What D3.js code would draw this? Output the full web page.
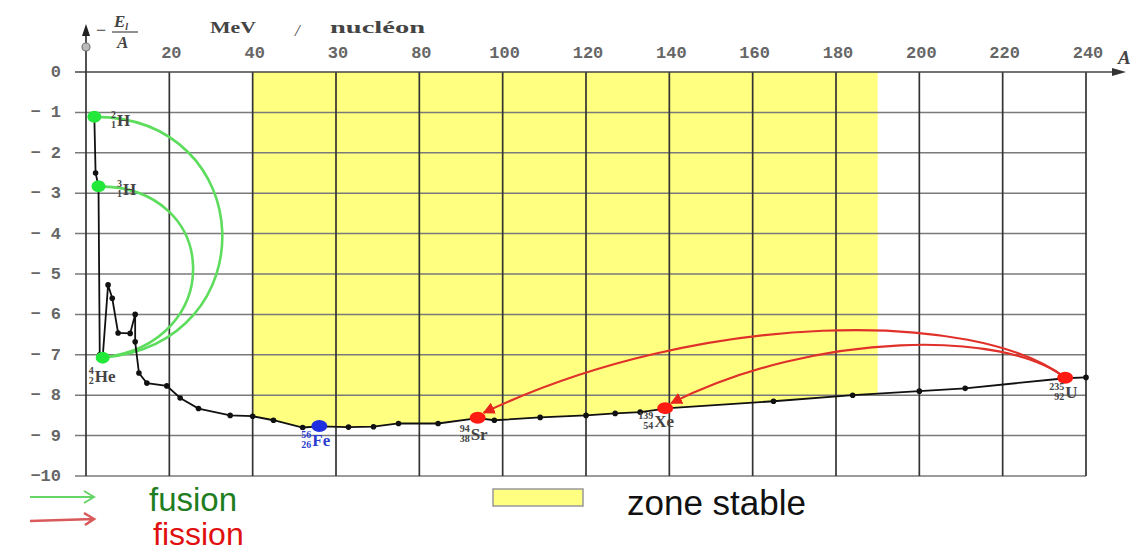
<!DOCTYPE html>
<html>
<head>
<meta charset="utf-8">
<script src="https://cdn.jsdelivr.net/npm/d3@7"></script>
<style>
  html, body { margin: 0; padding: 0; background: #fff; }
  svg { display: block; }
</style>
</head>
<body>
<div id="chart"></div>
<script>
// ---- data ----
// binding energy per nucleon curve: mass number A and -El/A (MeV / nucleon)
const massNumbers = [2, 2.3, 3, 3.3, 4, 5.3, 6.3, 7.7, 10.6, 11.8, 11.8, 12.7, 14.6, 19.4, 22.6, 27,
  34.6, 40, 45, 52, 56, 63, 69, 75, 84.5, 94, 98, 109, 120, 127, 133, 140, 165, 184, 200, 211, 235, 240];
const energies = [-1.11, -2.5, -2.83, -7.0, -7.07, -5.27, -5.6, -6.46, -6.47, -6.0, -6.68, -7.45, -7.7, -7.77, -8.07, -8.33,
  -8.5, -8.52, -8.62, -8.8, -8.77, -8.79, -8.78, -8.7, -8.7, -8.57, -8.62, -8.55, -8.5, -8.45, -8.42, -8.32, -8.15, -8.0, -7.9, -7.83, -7.58, -7.56];

// highlighted nuclides
const nuclideIds = ["2H", "3H", "4He", "56Fe", "94Sr", "139Xe", "235U"];
const nuclideMass = [2, 3, 4, 56, 94, 139, 235];
const nuclideZ = [1, 1, 2, 26, 38, 54, 92];
const nuclideSymbol = ["H", "H", "He", "Fe", "Sr", "Xe", "U"];
const nuclideEnergy = [-1.11, -2.83, -7.07, -8.76, -8.56, -8.32, -7.57];
const nuclideKind = ["fusion", "fusion", "fusion", "iron", "fission", "fission", "fission"];

// reactions: from, to, and how far the arc reaches (A for fusion, energy for fission)
const fusionFrom = ["2H", "3H"];
const fusionTo = ["4He", "4He"];
const fusionReachA = [32.7, 25.7];
const fissionFrom = ["235U", "235U"];
const fissionTo = ["94Sr", "139Xe"];
const fissionPeakE = [-6.42, -6.78];

// stable zone
const stableZone = [40, 190];

// axes
const xTicks = [20, 40, 60, 80, 100, 120, 140, 160, 180, 200, 220, 240];
const xTickLabels = ["20", "40", "30", "80", "100", "120", "140", "160", "180", "200", "220", "240"];
const yTicks = [0, -1, -2, -3, -4, -5, -6, -7, -8, -9, -10];
const yTickLabels = ["0", "\u2212 1", "\u2212 2", "\u2212 3", "\u2212 4", "\u2212 5", "\u2212 6", "\u2212 7", "\u2212 8", "\u2212 9", "\u221210"];

// ---- drawing ----
const width = 1140, height = 552;
const svg = d3.select("#chart").append("svg")
  .attr("width", width).attr("height", height)
  .attr("viewBox", [0, 0, width, height]);

const x = d3.scaleLinear().domain([0, 240]).range([86, 1086]);
const y = d3.scaleLinear().domain([0, -10]).range([72, 476]);

const curve = massNumbers.map((a, i) => ({ a: a, e: energies[i] }));
const nuclides = nuclideIds.map((id, i) => ({
  id: id, a: nuclideMass[i], z: nuclideZ[i], sym: nuclideSymbol[i],
  e: nuclideEnergy[i], kind: nuclideKind[i]
}));
const byId = {};
nuclides.forEach((n) => (byId[n.id] = n));

const defs = svg.append("defs");
defs.append("clipPath").attr("id", "zone-clip")
  .append("rect")
  .attr("x", x(stableZone[0])).attr("y", 0)
  .attr("width", x(stableZone[1]) - x(stableZone[0])).attr("height", height);

defs.append("marker").attr("id", "head-red")
  .attr("viewBox", "0 0 10 10").attr("refX", 9).attr("refY", 5)
  .attr("markerWidth", 12).attr("markerHeight", 12)
  .attr("markerUnits", "userSpaceOnUse").attr("orient", "auto")
  .append("path").attr("d", "M0,0 L10,5 L0,10 z").attr("fill", "#e8231c");

// stable zone: yellow between 0 and the curve
svg.append("path")
  .datum(curve)
  .attr("clip-path", "url(#zone-clip)")
  .attr("fill", "#ffff80")
  .attr("d", d3.area().x((d) => x(d.a)).y0(y(0)).y1((d) => y(d.e)));

// grid
const grid = svg.append("g");
grid.selectAll("line.h")
  .data(yTicks.filter((v) => v !== 0))
  .join("line")
  .attr("x1", 75).attr("x2", x(240))
  .attr("y1", (d) => y(d)).attr("y2", (d) => y(d))
  .attr("stroke", "#7a7a7a").attr("stroke-width", 1.5);

grid.selectAll("line.v")
  .data(xTicks)
  .join("line")
  .attr("x1", (d) => x(d)).attr("x2", (d) => x(d))
  .attr("y1", y(0)).attr("y2", y(-10))
  .attr("stroke", "#333").attr("stroke-width", 1.7);

// x axis (A) with arrow
grid.append("line")
  .attr("x1", 75).attr("x2", 1118)
  .attr("y1", y(0)).attr("y2", y(0))
  .attr("stroke", "#444").attr("stroke-width", 1.5);
grid.append("path")
  .attr("d", `M1126,${y(0)} L1112,${y(0) - 4} L1112,${y(0) + 4} z`)
  .attr("fill", "#333");

// y axis with arrow
grid.append("line")
  .attr("x1", x(0)).attr("x2", x(0))
  .attr("y1", y(-10)).attr("y2", 30)
  .attr("stroke", "#333").attr("stroke-width", 1.7);
grid.append("path")
  .attr("d", `M${x(0)},24 L${x(0) - 4},36 L${x(0) + 4},36 z`)
  .attr("fill", "#222");
grid.append("circle")
  .attr("cx", x(0)).attr("cy", 47).attr("r", 4)
  .attr("fill", "#bbb").attr("stroke", "#777").attr("stroke-width", 1.2);

// tick labels
const tickFont = "'Liberation Mono', 'DejaVu Sans Mono', monospace";
svg.append("g").selectAll("text")
  .data(xTicks)
  .join("text")
  .attr("x", (d) => x(d) + 2).attr("y", 58)
  .attr("text-anchor", "middle")
  .attr("font-family", tickFont).attr("font-weight", "bold")
  .attr("font-size", 17).attr("fill", "#666")
  .text((d, i) => xTickLabels[i]);

svg.append("g").selectAll("text")
  .data(yTicks)
  .join("text")
  .attr("x", 61).attr("y", (d) => y(d) + 5)
  .attr("text-anchor", "end")
  .attr("font-family", tickFont).attr("font-weight", "bold")
  .attr("font-size", 17).attr("fill", "#666")
  .text((d, i) => yTickLabels[i]);

// axis titles
const serif = "'Liberation Serif', 'DejaVu Serif', serif";
const title = svg.append("g").attr("fill", "#444").attr("font-family", serif);
title.append("text").attr("x", 96).attr("y", 36).attr("font-size", 18).text("\u2212");
title.append("text").attr("x", 114).attr("y", 27).attr("font-size", 17)
  .attr("font-style", "italic").attr("font-weight", "bold").text("E")
  .append("tspan").attr("font-size", 10).attr("dy", 3).text("l");
title.append("line").attr("x1", 112).attr("x2", 138).attr("y1", 32).attr("y2", 32)
  .attr("stroke", "#555").attr("stroke-width", 1.3);
title.append("text").attr("x", 117).attr("y", 48).attr("font-size", 17)
  .attr("font-style", "italic").attr("font-weight", "bold").text("A");
title.append("text").attr("x", 210).attr("y", 33).attr("font-size", 16)
  .attr("font-weight", "bold").attr("textLength", 46).attr("lengthAdjust", "spacingAndGlyphs").text("MeV");
title.append("text").attr("x", 295).attr("y", 36).attr("font-size", 17)
  .attr("font-style", "italic").text("/");
title.append("text").attr("x", 330).attr("y", 33).attr("font-size", 16)
  .attr("font-weight", "bold").attr("textLength", 95).attr("lengthAdjust", "spacingAndGlyphs").text("nucléon");
title.append("text").attr("x", 1118).attr("y", 64).attr("font-size", 19)
  .attr("font-style", "italic").attr("font-weight", "bold").text("A");

// fusion arcs
function fusionPath(from, to, reachA) {
  const x0 = x(from.a), y0 = y(from.e), x3 = x(to.a), y3 = y(to.e);
  const b = (x(reachA) - 0.5 * (x0 + x3)) / 0.75;
  const p = d3.path();
  p.moveTo(x0, y0);
  p.bezierCurveTo(x0 + b, y0, x3 + b, y3 - 14, x3, y3);
  return p.toString();
}
svg.append("g").selectAll("path")
  .data(fusionFrom.map((f, i) => ({ from: byId[f], to: byId[fusionTo[i]], reach: fusionReachA[i] })))
  .join("path")
  .attr("d", (d) => fusionPath(d.from, d.to, d.reach))
  .attr("fill", "none").attr("stroke", "#5ddc5d").attr("stroke-width", 2.6);

// curve
svg.append("path")
  .datum(curve)
  .attr("fill", "none").attr("stroke", "#111").attr("stroke-width", 1.8)
  .attr("d", d3.line().x((d) => x(d.a)).y((d) => y(d.e)));
svg.append("g").selectAll("circle")
  .data(curve)
  .join("circle")
  .attr("cx", (d) => x(d.a)).attr("cy", (d) => y(d.e)).attr("r", 2.8)
  .attr("fill", "#111");

// fission arcs
function fissionPath(from, to, peakE) {
  const x0 = x(from.a), y0 = y(from.e), x3 = x(to.a), y3 = y(to.e);
  const dx = x3 - x0;
  const h = (y(peakE) - 0.125 * (y0 + y3)) / 0.75;
  const p = d3.path();
  p.moveTo(x0, y0);
  p.bezierCurveTo(x0 + 0.15 * dx, h, x0 + 0.62 * dx, h, x3 + 6, y3 - 5);
  return p.toString();
}
svg.append("g").selectAll("path")
  .data(fissionFrom.map((f, i) => ({ from: byId[f], to: byId[fissionTo[i]], peak: fissionPeakE[i] })))
  .join("path")
  .attr("d", (d) => fissionPath(d.from, d.to, d.peak))
  .attr("fill", "none").attr("stroke", "#e0302a").attr("stroke-width", 2.2)
  .attr("marker-end", "url(#head-red)");

// highlighted nuclides
const dotColor = { fusion: "#22e83a", iron: "#1f2fe0", fission: "#ff1a12" };
svg.append("g").selectAll("ellipse")
  .data(nuclides)
  .join("ellipse")
  .attr("cx", (d) => x(d.a)).attr("cy", (d) => y(d.e))
  .attr("rx", (d) => (d.kind === "fusion" ? 7 : 8)).attr("ry", 6)
  .attr("fill", (d) => dotColor[d.kind]);

// nuclide labels (stacked mass / atomic numbers before the symbol)
const labelPos = {
  "2H": [116, 3], "3H": [122, 3], "4He": [-9, 18], "56Fe": [-8, 14],
  "94Sr": [-8, 16], "139Xe": [-12, 13], "235U": [-1, 14]
};
const labelColor = { fusion: "#444", iron: "#2b3fd0", fission: "#444" };
const labels = svg.append("g").attr("font-family", serif).attr("font-weight", "bold");
nuclides.forEach((n) => {
  const off = labelPos[n.id];
  const lx = n.kind === "fusion" && n.id !== "4He" ? off[0] : x(n.a) + off[0];
  const ly = y(n.e) + off[1];
  const g = labels.append("g").attr("fill", labelColor[n.kind]);
  g.append("text").attr("x", lx).attr("y", ly - 2).attr("text-anchor", "end")
    .attr("font-size", 10).text(String(n.a));
  g.append("text").attr("x", lx).attr("y", ly + 8).attr("text-anchor", "end")
    .attr("font-size", 10).text(String(n.z));
  g.append("text").attr("x", lx + 1).attr("y", ly + 6)
    .attr("font-size", 17).text(n.sym);
});

// legend
const legend = svg.append("g");
legend.append("path").attr("d", "M30,497 L94,497 M84,491 L94,497 L84,503")
  .attr("fill", "none").attr("stroke", "#66d466").attr("stroke-width", 2);
legend.append("path").attr("d", "M30,521 L94,519 M84,513 L94,519 L85,525")
  .attr("fill", "none").attr("stroke", "#d85a5a").attr("stroke-width", 2.6);
legend.append("text").attr("x", 149).attr("y", 511)
  .attr("font-family", "'Liberation Sans', Arial, sans-serif").attr("font-size", 33)
  .attr("fill", "#1e7d1e").text("fusion");
legend.append("text").attr("x", 153).attr("y", 545)
  .attr("font-family", "'Liberation Sans', Arial, sans-serif").attr("font-size", 32)
  .attr("fill", "#e01010").text("fission");
legend.append("rect").attr("x", 493).attr("y", 489).attr("width", 90).attr("height", 17)
  .attr("fill", "#ffff80").attr("stroke", "#999").attr("stroke-width", 1.5);
legend.append("text").attr("x", 627).attr("y", 515)
  .attr("font-family", "'Liberation Sans', Arial, sans-serif").attr("font-size", 35)
  .attr("fill", "#111").text("zone stable");
</script>
</body>
</html>
